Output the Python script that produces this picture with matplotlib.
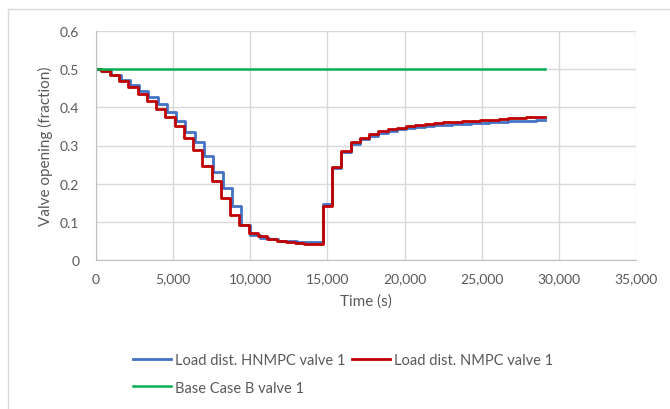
import matplotlib.pyplot as plt
import numpy as np
from matplotlib.ticker import FuncFormatter, MultipleLocator

# step edges (s): controller holds each move for 600 s
edges = [0] + list(np.arange(300, 29100, 600)) + [29100]

nmpc = [0.500, 0.495, 0.484, 0.469, 0.453, 0.436, 0.416, 0.396, 0.374, 0.351,
        0.320, 0.287, 0.247, 0.207, 0.162, 0.119, 0.091, 0.072, 0.062, 0.055,
        0.050, 0.046, 0.044, 0.042, 0.041, 0.141, 0.243, 0.286, 0.308, 0.319,
        0.330, 0.337, 0.343, 0.347, 0.352, 0.355, 0.357, 0.359, 0.361, 0.362,
        0.364, 0.365, 0.367, 0.368, 0.370, 0.371, 0.372, 0.374, 0.375]

hnmpc = [0.500, 0.496, 0.486, 0.472, 0.458, 0.442, 0.427, 0.408, 0.388, 0.363,
         0.336, 0.309, 0.273, 0.231, 0.188, 0.142, 0.092, 0.065, 0.058, 0.054,
         0.051, 0.049, 0.048, 0.047, 0.046, 0.146, 0.240, 0.283, 0.305, 0.316,
         0.326, 0.333, 0.338, 0.342, 0.346, 0.349, 0.351, 0.353, 0.354, 0.356,
         0.357, 0.358, 0.359, 0.361, 0.362, 0.363, 0.364, 0.365, 0.366]
hnmpc_delay = 100  # blue moves a little later than red while closing

base_t = [0, 29100]
base = [0.5, 0.5]

plt.rcParams['font.family'] = ['Lato', 'DejaVu Sans']
grey = '#595959'

fig = plt.figure(figsize=(6.7, 4.1), dpi=100)
ax = fig.add_axes([96 / 670, 1 - 261 / 410, 540 / 670, 229 / 410])

blue_edges = [e + hnmpc_delay if 0 < e < 14000 else e for e in edges]
l1, = ax.step(blue_edges, hnmpc + [hnmpc[-1]], where='post', color='#4472C4', lw=2.0)
l2, = ax.step(edges, nmpc + [nmpc[-1]], where='post', color='#C00000', lw=2.0)
l3, = ax.plot(base_t, base, color='#00B050', lw=1.8)

ax.set_xlim(0, 35000)
ax.set_ylim(0, 0.6)
ax.xaxis.set_major_locator(MultipleLocator(5000))
ax.yaxis.set_major_locator(MultipleLocator(0.1))
ax.xaxis.set_major_formatter(FuncFormatter(lambda v, p: f'{int(v):,}'))
ax.yaxis.set_major_formatter(FuncFormatter(lambda v, p: '0' if v == 0 else f'{v:.1f}'))
ax.grid(True, color='#d9d9d9', lw=1)
ax.set_axisbelow(True)
for s in ['top', 'right']:
    ax.spines[s].set_visible(False)
for s in ['left', 'bottom']:
    ax.spines[s].set_color('#bfbfbf')
ax.tick_params(length=0, labelsize=10, labelcolor=grey)
ax.tick_params(axis='x', pad=9)
ax.tick_params(axis='y', pad=12)

fig.text(366 / 670, 1 - 302 / 410, 'Time (s)', ha='center', va='center', fontsize=11, color=grey)
fig.text(45 / 670, 1 - 146 / 410, 'Valve opening (fraction)', ha='center', va='center',
         rotation=90, fontsize=11, color=grey)

fig.legend([l1, l3, l2], ['Load dist. HNMPC valve 1', 'Base Case B valve 1',
                          'Load dist. NMPC valve 1'],
           ncol=2, loc='center left', bbox_to_anchor=(120 / 670, 1 - 375 / 410),
           frameon=False, fontsize=10.5, labelcolor=grey, handlelength=2.6,
           handletextpad=0.3, columnspacing=0.4, labelspacing=0.9)

# chart area border (only top and left visible in the crop)
fig.add_artist(plt.Line2D([8 / 670, 1], [1 - 10 / 410] * 2, color='#d9d9d9', lw=1))
fig.add_artist(plt.Line2D([8 / 670] * 2, [0, 1 - 10 / 410], color='#d9d9d9', lw=1))

fig.savefig('out.png', dpi=100)
